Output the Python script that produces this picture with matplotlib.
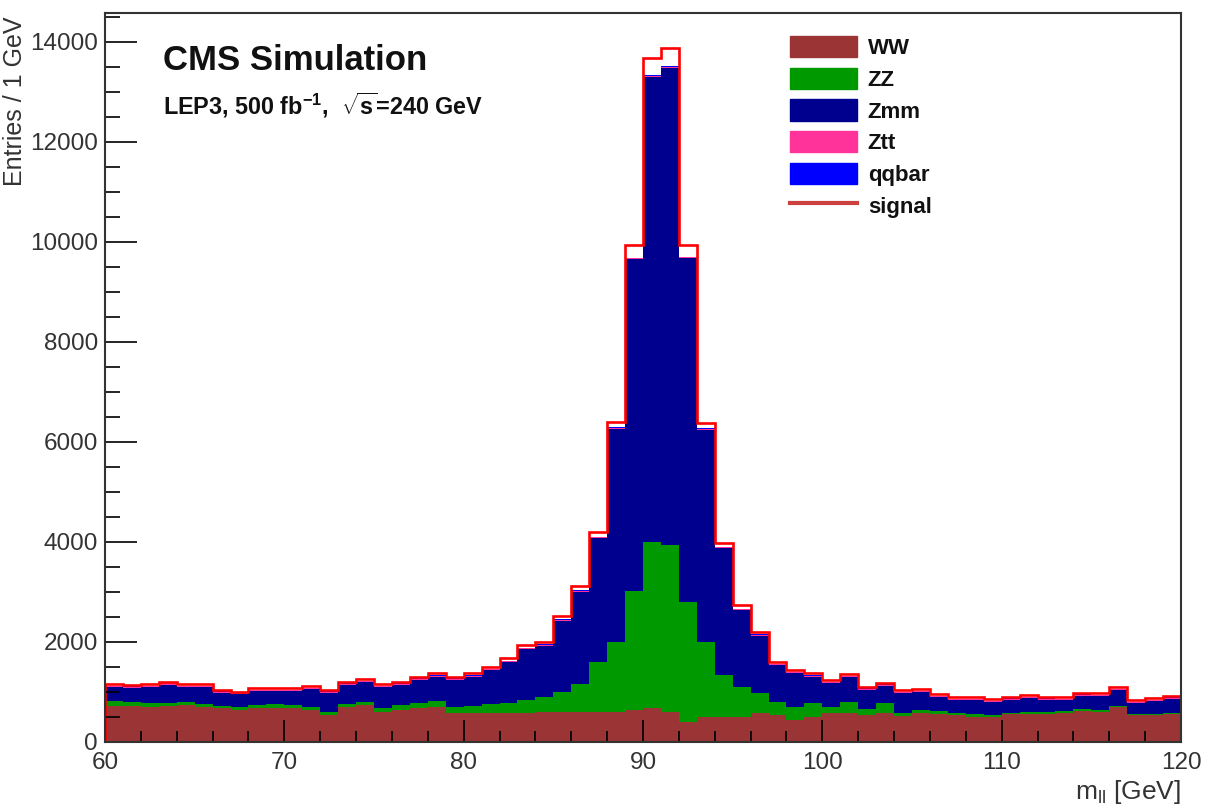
import numpy as np
import matplotlib
matplotlib.use("Agg")
import matplotlib.pyplot as plt
from matplotlib.patches import Patch
from matplotlib.lines import Line2D

plt.rcParams['font.family'] = ['Liberation Sans', 'DejaVu Sans']
plt.rcParams['mathtext.fontset'] = 'custom'
plt.rcParams['mathtext.rm'] = 'Liberation Sans'
plt.rcParams['mathtext.bf'] = 'Liberation Sans:bold'
plt.rcParams['mathtext.it'] = 'Liberation Sans:italic'

# m_ll bins, 1 GeV wide
bin_edges = np.arange(60, 121, 1)

# entries per bin
ww = [730, 727, 707, 720, 740, 707, 673, 640, 673, 690,
      673, 640, 540, 707, 740, 607, 640, 673, 707, 573,
      573, 573, 573, 573, 600, 600, 610, 600, 600, 640,
      680, 610, 400, 500, 510, 510, 573, 540, 440, 507,
      573, 573, 540, 573, 520, 587, 560, 540, 507, 493,
      560, 560, 560, 587, 627, 607, 707, 540, 540, 560]
zz = [90, 80, 75, 70, 65, 60, 55, 55, 60, 65,
      60, 55, 65, 60, 55, 65, 110, 100, 120, 130,
      150, 180, 210, 270, 300, 400, 560, 1000, 1400, 2380,
      3330, 3340, 2400, 1500, 830, 600, 400, 270, 270, 270,
      135, 235, 130, 200, 55, 55, 65, 50, 50, 45,
      30, 40, 40, 35, 25, 35, 20, 20, 20, 25]
zmm = [272, 275, 313, 359, 290, 328, 256, 256, 284, 262,
       282, 367, 379, 380, 405, 423, 397, 472, 482, 540,
       584, 686, 817, 1019, 1024, 1427, 1837, 2479, 4269, 6632,
       9295, 9535, 6872, 4249, 2532, 1532, 1151, 724, 662, 530,
       469, 489, 379, 356, 407, 353, 270, 245, 278, 257,
       259, 282, 249, 213, 277, 273, 308, 222, 255, 284]
ztt = [24, 22, 20, 22, 20, 21, 19, 20, 20, 21,
       20, 20, 19, 21, 20, 20, 21, 20, 20, 21,
       20, 20, 21, 20, 20, 20, 21, 20, 20, 20,
       20, 20, 20, 20, 20, 20, 20, 20, 20, 20,
       20, 20, 20, 20, 20, 20, 20, 20, 20, 20,
       20, 20, 20, 20, 20, 20, 20, 20, 20, 20]
qqbar = [8, 8, 8, 8, 8, 8, 8, 8, 8, 8,
         8, 8, 8, 8, 8, 8, 8, 8, 8, 8,
         8, 8, 8, 8, 8, 8, 8, 8, 8, 8,
         8, 8, 8, 8, 8, 8, 8, 8, 8, 8,
         8, 8, 8, 8, 8, 8, 8, 8, 8, 8,
         8, 8, 8, 8, 8, 8, 8, 8, 8, 8]
signal = [30, 30, 30, 30, 30, 30, 28, 28, 28, 28,
          30, 30, 28, 32, 32, 30, 32, 34, 36, 36,
          38, 40, 45, 50, 55, 65, 85, 100, 110, 260,
          340, 360, 240, 110, 90, 70, 55, 45, 40, 38,
          35, 35, 30, 30, 30, 30, 30, 30, 30, 30,
          30, 30, 30, 30, 30, 30, 30, 30, 30, 30]

names = ['WW', 'ZZ', 'Zmm', 'Ztt', 'qqbar']
colors = ['#9b3434', '#009a00', '#00008f', '#ff3399', '#0000ff']
layers = [ww, zz, zmm, ztt, qqbar]

fig = plt.figure(figsize=(12.06, 8.06), dpi=100)
ax = fig.add_axes([105/1206, 1-742/806, 1076/1206, 729/806])

bottom = np.zeros(len(ww))
for vals, col in zip(layers, colors):
    top = bottom + np.array(vals)
    ax.stairs(top, bin_edges, baseline=bottom, fill=True, color=col, lw=0)
    bottom = top

# signal drawn on top of the background stack
ax.stairs(bottom + np.array(signal), bin_edges, color='#ff0000', lw=1.9)

ax.set_xlim(60, 120)
ax.set_ylim(0, 14580)
ax.set_xticks(np.arange(60, 121, 10))
ax.set_xticks(np.arange(60, 121, 2), minor=True)
ax.set_yticks(np.arange(0, 14001, 2000))
ax.set_yticks(np.arange(0, 14501, 500), minor=True)
ax.set_yticklabels([str(v) for v in range(0, 14001, 2000)])

ax.tick_params(which='both', direction='in', top=False, right=False,
               colors='black', labelcolor='#333333', labelsize=17.5)
ax.tick_params(axis='y', which='major', length=23, width=1.2, pad=5)
ax.tick_params(axis='y', which='minor', length=11, width=1.2)
ax.tick_params(axis='x', which='major', length=16, width=1.2, pad=7)
ax.tick_params(axis='x', which='minor', length=8, width=1.2)
for sp in ax.spines.values():
    sp.set_linewidth(1.5)
    sp.set_color('#333333')

fig.text(15/1206, 1-16/806, 'Entries / 1 GeV', rotation=90, ha='center',
         va='top', fontsize=18, color='#333333')
fig.text(1181/1206, 1-792/806, r'm$_{\rm ll}$ [GeV]', ha='right',
         va='center', fontsize=19, color='#333333')

fig.text(163/1206, 1-60/806, 'CMS Simulation', ha='left', va='center',
         fontsize=25, fontweight='bold', color='#111111')
fig.text(163/1206, 1-105/806,
         r'LEP3, 500 fb$^{\mathbf{-1}}$,  $\sqrt{\mathbf{s}}$=240 GeV',
         ha='left', va='center', fontsize=16.8, fontweight='bold',
         color='#111111')

handles = [Patch(facecolor=c, edgecolor=c) for c in colors]
handles.append(Line2D([], [], color='#cc4040', lw=3))
leg = fig.legend(handles, names + ['signal'], loc='upper left',
                 bbox_to_anchor=(790/1206, 1-36/806), frameon=False,
                 prop={'weight': 'bold', 'size': 16}, handlelength=3.0,
                 handleheight=1.1, handletextpad=0.5, labelspacing=0.38,
                 borderpad=0, borderaxespad=0)
for t in leg.get_texts():
    t.set_color('#111111')

fig.savefig('out.png', dpi=100)
